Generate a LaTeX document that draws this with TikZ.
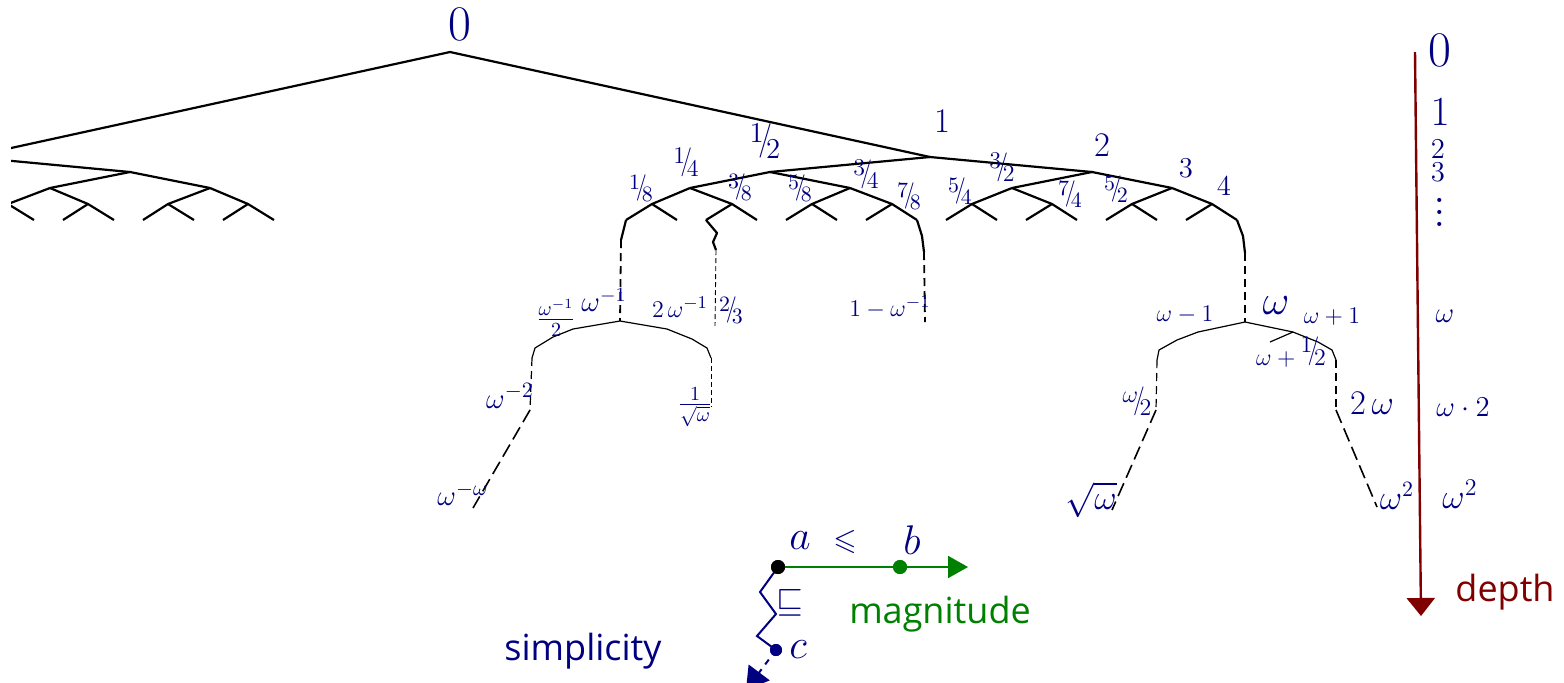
\documentclass[tikz,border=0pt]{standalone}
\usepackage{amsmath,amssymb,graphicx}
\usepackage{fontspec}
\setsansfont{Open Sans}
\usetikzlibrary{calc, positioning, arrows.meta}

\definecolor{numblue}{RGB}{0,0,128}
\definecolor{depthred}{RGB}{128,0,0}
\definecolor{maggreen}{RGB}{0,128,0}

\newcommand{\sfr}[2]{\mbox{\raisebox{.55em}{$#1$}\kern-.2em\raisebox{.3em}{\scalebox{1}[1.2]{$/$}}\kern-.22em$#2$}}
\newcommand{\fs}[1]{\fontsize{#1}{#1}\selectfont}
\newcommand{\tallvdots}{\vbox{\baselineskip=6pt \lineskiplimit=0pt \hbox{.}\hbox{.}\hbox{.}}}

% binary part of the tree below 1, names start with #1
\newcommand{\dyadic}[1]{%
  \foreach \n/\x/\y in {1/930/157, 12/770/172, 2/1092/172,
      14/690/188, 34/850/188, 32/1012/188, 3/1172/188,
      18/652/204, 38/732/204, 58/812/204, 78/892/204,
      54/972/204, 74/1052/204, 52/1132/204, 4/1212/204}
    \coordinate (#1\n) at (\x,\y);
  \foreach \a/\b in {1/12, 1/2, 12/14, 12/34, 2/32, 2/3, 14/18, 14/38,
      34/58, 34/78, 32/54, 32/74, 3/52, 3/4}
    \draw[edge] (#1\a) -- (#1\b);
  \foreach \n/\x in {18/652, 38/732, 58/812, 78/892,
      54/972, 74/1052, 52/1132, 4/1212} {
    \coordinate (#1\n-l) at (\x-26,220);
    \coordinate (#1\n-r) at (\x+25,220);
    \draw[edge] (#1\n-l) -- (#1\n) -- (#1\n-r);
  }%
}

\begin{document}
\begin{tikzpicture}[x=0.5pt, y=-0.5pt,
        edge/.style={line width=1.1pt, line join=round},
        thin edge/.style={line width=0.6pt, line join=round},
        tail/.style={line width=0.9pt, dash pattern=on 4pt off 2.5pt},
        fine tail/.style={line width=0.45pt, dash pattern=on 2.5pt off 1.5pt},
        long tail/.style={line width=0.8pt, dash pattern=on 7pt off 3pt},
        lab/.style={text=numblue, inner sep=0pt},
        dot/.style={circle, inner sep=0pt, minimum size=7pt},
    ]
    \useasboundingbox (0,0) rectangle (1564,682);

    % ====== dyadic part of the tree ======
    \coordinate (r0) at (450,52);
    \begin{scope}
        \clip (11,0) rectangle (1564,682);
        \begin{scope}[shift={(900,0)}, xscale=-1]
            \dyadic{m}
        \end{scope}
        \draw[edge] (r0) -- (m1);
    \end{scope}
    \dyadic{p}
    \draw[edge] (r0) -- (p1);

    % ====== limits below the leaves ======
    \coordinate (winv) at (620,321);
    \coordinate (twothirds) at (715,326);
    \coordinate (onem) at (925,322);
    \coordinate (w) at (1245,322);
    \draw[edge] (p18-l) -- (621,240) coordinate (wa);
    \draw[tail] (wa) -- (winv);
    \draw[edge] (p38-l) -- (717,233) -- (713,242) -- (716,250) coordinate (zz);
    \draw[fine tail] (zz) -- (twothirds);
    \draw[edge] (p78-r) -- (922,236) -- (924,252) coordinate (wb);
    \draw[tail] (wb) -- (onem);
    \draw[edge] (p4-r) -- (1243,236) -- (1245,253) coordinate (wc);
    \draw[tail] (wc) -- (w);

    % ====== below omega^-1 ======
    \coordinate (wih) at (573,329);
    \coordinate (wi2) at (530,410);
    \coordinate (wiw) at (473,508);
    \coordinate (wir) at (711,407);
    \draw[thin edge] (532,358) coordinate (wia) -- (535,348) -- (553,337) -- (wih)
        -- (winv) -- (667,329) -- (692,339) -- (707,348) -- (711,358) coordinate (wib);
    \draw[tail, line width=0.6pt] (wia) -- (wi2);
    \draw[long tail] (wi2) -- (wiw);
    \draw[fine tail] (wib) -- (wir);

    % ====== below omega ======
    \coordinate (wl) at (1198,332);
    \coordinate (wp) at (1293,332);
    \coordinate (wph) at (1270,342);
    \coordinate (wh) at (1156,410);
    \coordinate (wsq) at (1112,510);
    \coordinate (w2) at (1336,410);
    \coordinate (wsqr) at (1377,507);
    \draw[thin edge] (1157,360) coordinate (wla) -- (1159,350) -- (1177,340) -- (wl)
        -- (w) -- (wp) -- (1318,342) -- (1332,350) -- (1336,360) coordinate (wpa);
    \draw[thin edge] (wp) -- (wph);
    \draw[tail, line width=0.6pt] (wla) -- (wh);
    \draw[tail, line width=0.6pt] (wpa) -- (w2);
    \draw[long tail] (wh) -- (wsq);
    \draw[long tail] (w2) -- (wsqr);

    % ====== labels ======
    \node[lab, font=\fs{23}] (l0) at (460,24) {$0$};
    \node[lab, font=\fs{19}] (l1) at (942,121) {$1$};
    \node[lab, font=\fs{14}] (l12) at (765,141) {\sfr{1}{2}};
    \node[lab, font=\fs{16}] (l2) at (1102,145) {$2$};
    \node[lab, font=\fs{12}] (l14) at (686,162) {\sfr{1}{4}};
    \node[lab, font=\fs{12}] (l34) at (866,174) {\sfr{3}{4}};
    \node[lab, font=\fs{12}] (l32) at (1002,167) {\sfr{3}{2}};
    \node[lab, font=\fs{14}] (l3) at (1186,168) {$3$};
    \node[lab, font=\fs{11}] (l18) at (641,188) {\sfr{1}{8}};
    \node[lab, font=\fs{11}] (l38) at (740,187) {\sfr{3}{8}};
    \node[lab, font=\fs{11}] (l58) at (800,188) {\sfr{5}{8}};
    \node[lab, font=\fs{11}] (l78) at (909,196) {\sfr{7}{8}};
    \node[lab, font=\fs{11}] (l54) at (960,191) {\sfr{5}{4}};
    \node[lab, font=\fs{11}] (l74) at (1070,194) {\sfr{7}{4}};
    \node[lab, font=\fs{11}] (l52) at (1116,189) {\sfr{5}{2}};
    \node[lab, font=\fs{14}] (l4) at (1224,186) {$4$};

    \node[lab, font=\fs{14}] (lwinv) at (604,300) {$\omega^{-1}$};
    \node[lab, font=\fs{14}] (lwih) at (556,318) {$\frac{\omega^{-1}}{2}$};
    \node[lab, font=\fs{13}] (l2winv) at (680,307) {$2\,\omega^{-1}$};
    \node[lab, font=\fs{11}] (l23) at (731,310) {\sfr{2}{3}};
    \node[lab, font=\fs{13}] (lonem) at (890,307) {$1-\omega^{-1}$};
    \node[lab, font=\fs{15}] (lwi2) at (510,396) {$\omega^{-2}$};
    \node[lab, font=\fs{14}] (lwir) at (695,407) {$\frac{1}{\sqrt{\omega}}$};
    \node[lab, font=\fs{15}] (lwiw) at (463,494) {$\omega^{-\omega}$};

    \node[lab, font=\fs{20}] (lw) at (1276,306) {$\omega$};
    \node[lab, font=\fs{13}] (lwl) at (1185,315) {$\omega-1$};
    \node[lab, font=\fs{13}] (lwp) at (1332,317) {$\omega+1$};
    \node[lab, font=\fs{12}] (lwph) at (1291,352) {$\omega+\sfr{1}{2}$};
    \node[lab, font=\fs{12}] (lwh) at (1137,401) {\sfr{\omega}{2}};
    \node[lab, font=\fs{16}] (lw2) at (1372,403) {$2\,\omega$};
    \node[lab, font=\fs{16}] (lwsq) at (1091,500) {$\sqrt{\omega}$};
    \node[lab, font=\fs{16}] (lwsqr) at (1397,496) {$\omega^2$};

    % ====== depth axis ======
    \coordinate (dtop) at (1415,52);
    \coordinate (dbot) at (1421,616);
    \draw[depthred, line width=1.2pt, -{Triangle[length=9pt, width=14pt]}] (dtop) -- (dbot);
    \node[text=depthred, font=\sffamily\fs{18}] (ldepth) at (1505,592) {depth};
    \node[lab, font=\fs{26}] (d0) at (1440,50) {$0$};
    \node[lab, font=\fs{20}] (d1) at (1440,112) {$1$};
    \node[lab, font=\fs{15}] (d2) at (1438,149) {$2$};
    \node[lab, font=\fs{15}] (d3) at (1438,172) {$3$};
    \node[lab, font=\fs{25}] (ddots) at (1440,212) {\tallvdots};
    \node[lab, font=\fs{15}] (dw) at (1445,316) {$\omega$};
    \node[lab, font=\fs{14}] (dw2) at (1463,407) {$\omega\cdot 2$};
    \node[lab, font=\fs{17}] (dwsq) at (1460,494) {$\omega^2$};

    % ====== legend ======
    \node[dot, fill=black] (a) at (778,567) {};
    \node[dot, fill=maggreen] (b) at (900,567) {};
    \node[dot, fill=numblue, minimum size=6pt] (c) at (776,650) {};
    \coordinate (magend) at (968,567);
    \coordinate (simpend) at (746,690);
    \draw[maggreen, line width=1pt, -{Triangle[length=10pt, width=11pt]}] (a.center) -- (magend);
    \draw[numblue, line width=1pt] (a.center) -- (760,592) -- (776,614) -- (757,636) -- (c.center);
    \draw[numblue, line width=1pt, dashed, -{Triangle[length=11pt, width=13pt]}] (c.center) -- (simpend);
    \node[dot, fill=black] at (a) {};
    \node[dot, fill=maggreen] at (b) {};
    \node[dot, fill=numblue, minimum size=6pt] at (c) {};
    \node[lab, font=\fs{21}] (la) at (800,541) {$a$};
    \node[lab, font=\fs{15}] (lleq) at (845,542) {$\leqslant$};
    \node[lab, font=\fs{21}] (lb) at (912,540) {$b$};
    \node[lab, font=\fs{17}] (lsq) at (790,603) {$\sqsubseteq$};
    \node[lab, font=\fs{21}] (lc) at (798,650) {$c$};
    \node[text=maggreen, font=\sffamily\fs{18}] (lmag) at (940,614) {magnitude};
    \node[text=numblue, font=\sffamily\fs{18}] (lsimp) at (583,651) {simplicity};
\end{tikzpicture}
\end{document}
